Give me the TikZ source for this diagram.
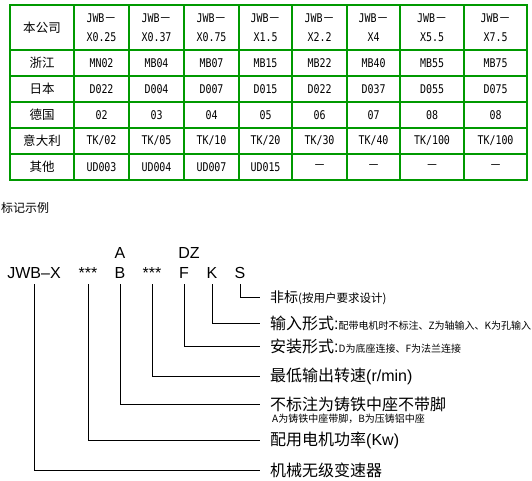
\documentclass[tikz,border=0pt]{standalone}
\usepackage{fontspec}
\setmainfont{Liberation Sans}
\newfontfamily\zhfont{Noto Sans CJK SC}
\newfontfamily\tabmono[FakeStretch=0.83]{DejaVu Sans Mono}
\definecolor{tgreen}{RGB}{0,153,0}
\newcommand\hd[1]{JWB{\zhfont －}\\#1}
\newcommand\nodash{{\zhfont －}}
\newcommand\smallzh{\fontsize{10}{12}\selectfont\zhfont}
\newcommand\cellsrow[3]{%
  \foreach \t [count=\i] in {#3} {%
    \pgfmathsetmacro\cx{{101.5,156.5,211.5,265.5,319.5,373.5,432,495.5}[\i-1]}%
    \node[cell] (#1-\i) at (\cx,#2) {\t};%
  }}
\begin{document}
\begin{tikzpicture}[x=1pt,y=-1pt,
  grid/.style={draw=tgreen,line width=1.5pt},
  cell/.style={font=\fontsize{12}{19}\selectfont\tabmono,align=center,inner sep=0pt},
  zhcell/.style={font=\fontsize{12.5}{14}\selectfont\zhfont,inner sep=0pt},
  code/.style={font=\fontsize{16}{19}\selectfont,anchor=base,inner xsep=0pt,inner ysep=6pt,text depth=0pt},
  desc/.style={font=\fontsize{16}{19}\selectfont\zhfont,anchor=west,inner xsep=10pt,inner ysep=0pt},
  note/.style={font=\smallzh,anchor=west,inner sep=0pt},
  conn/.style={draw=black,line width=1pt}]
\useasboundingbox (0,0) rectangle (532,480);
% ---- table ----
\draw[grid] (10,5) rectangle (527,180);
\foreach \x in {74,129,184,239,292,347,400,464} \draw[grid] (\x,5) -- (\x,180);
\foreach \y in {50,76,102,128,154} \draw[grid] (10,\y) -- (527,\y);
\node[zhcell] (hd-0) at (42,27.5) {本公司};
\node[zhcell] (zj-0) at (42,63) {浙江};
\node[zhcell] (jp-0) at (42,89) {日本};
\node[zhcell] (de-0) at (42,115) {德国};
\node[zhcell] (it-0) at (42,141) {意大利};
\node[zhcell] (ot-0) at (42,167) {其他};
\cellsrow{hd}{27.5}{\hd{X0.25},\hd{X0.37},\hd{X0.75},\hd{X1.5},\hd{X2.2},\hd{X4},\hd{X5.5},\hd{X7.5}}
\cellsrow{zj}{63}{MN02,MB04,MB07,MB15,MB22,MB40,MB55,MB75}
\cellsrow{jp}{89}{D022,D004,D007,D015,D022,D037,D055,D075}
\cellsrow{de}{115}{02,03,04,05,06,07,08,08}
\cellsrow{it}{141}{TK/02,TK/05,TK/10,TK/20,TK/30,TK/40,TK/100,TK/100}
\cellsrow{ot}{167}{UD003,UD004,UD007,UD015,\nodash,\nodash,\nodash,\nodash}
% ---- marking example ----
\node[font=\fontsize{12}{14}\selectfont\zhfont,anchor=west,inner sep=0pt] (title) at (1,208) {标记示例};
\node[code] (jwb) at (34,278) {JWB–X};
\node[code] (st1) at (88,278) {***};
\node[code] (b) at (120,278) {B};
\node[code] (a) at (120,258) {A};
\node[code] (st2) at (152,278) {***};
\node[code] (f) at (184,278) {F};
\node[code] (dz) at (189,258) {DZ};
\node[code] (k) at (212,278) {K};
\node[code] (s) at (240,278) {S};
\node[desc] (ds) at (260,297.5) {{\fontsize{14}{16}\selectfont 非标}{\fontsize{11.5}{13}\selectfont (按用户要求设计)}};
\node[desc] (dk) at (260,323) {输入形式{\rmfamily :}{\smallzh 配带电机时不标注、Z为轴输入、K为孔输入}};
\node[desc] (df) at (260,346) {安装形式{\rmfamily :}{\smallzh D为底座连接、F为法兰连接}};
\node[desc] (dst2) at (260,376) {最低输出转速{\rmfamily (r/min)}};
\node[desc] (db) at (260,404) {不标注为铸铁中座不带脚};
\node[note] (dbn) at (272,418.5) {A为铸铁中座带脚，B为压铸铝中座};
\node[desc] (dst1) at (260,440) {配用电机功率{\rmfamily (Kw)}};
\node[desc] (dj) at (260,470) {机械无级变速器};
\draw[conn] (s.south) |- (ds.west);
\draw[conn] (k.south) |- (dk.west);
\draw[conn] (f.south) |- (df.west);
\draw[conn] (st2.south) |- (dst2.west);
\draw[conn] (b.south) |- (db.west);
\draw[conn] (st1.south) |- (dst1.west);
\draw[conn] (jwb.south) |- (dj.west);
\end{tikzpicture}
\end{document}
